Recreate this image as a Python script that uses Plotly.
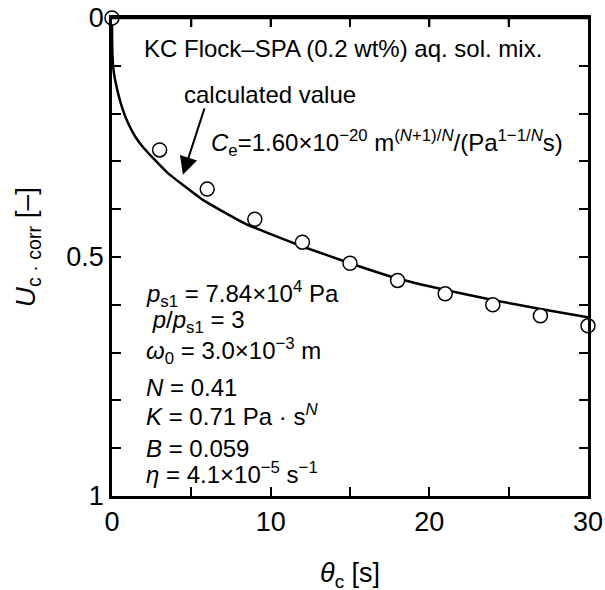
import plotly.graph_objects as go

# measured points
theta_pts = [0, 3, 6, 9, 12, 15, 18, 21, 24, 27, 30]
u_pts = [0.0, 0.276, 0.358, 0.421, 0.469, 0.513, 0.549, 0.577, 0.600, 0.623, 0.644]

# calculated curve
theta_calc = [0, 0.005, 0.02, 0.05, 0.1, 0.2, 0.35, 0.55, 0.8, 1.1, 1.5, 2.0, 2.7, 3.5,
              4.5, 5.7, 7.0, 8.5, 10, 12, 15, 18, 21, 24, 27, 30]
u_calc = [0, 0.04, 0.07, 0.092, 0.110, 0.13, 0.153, 0.178, 0.203, 0.226, 0.25, 0.272,
          0.297, 0.324, 0.35, 0.38, 0.405, 0.432, 0.452, 0.478, 0.513, 0.545, 0.569,
          0.590, 0.609, 0.626]

x_tickvals = [0, 5, 10, 15, 20, 25, 30]
x_ticktext = ["0", "", "10", "", "20", "", "30"]
y_tickvals = [0, 0.1, 0.2, 0.3, 0.4, 0.5, 0.6, 0.7, 0.8, 0.9, 1.0]
y_ticktext = ["0", "", "", "", "", "0.5", "", "", "", "", "1"]

params = [
    "<i>p</i><sub>s1</sub> = 7.84×10<sup>4</sup> Pa",
    " <i>p</i>/<i>p</i><sub>s1</sub> = 3",
    "<i>ω</i><sub>0</sub> = 3.0×10<sup>−3</sup> m",
    "<i>N</i> = 0.41",
    "<i>K</i> = 0.71 Pa · s<sup><i>N</i></sup>",
    "<i>B</i> = 0.059",
    "<i>η</i> = 4.1×10<sup>−5</sup> s<sup>−1</sup>",
]
param_y = [0.578, 0.634, 0.697, 0.772, 0.830, 0.900, 0.952]

FONT = "Liberation Sans, Arial, sans-serif"
AF = 24
PLOT_H = 590 - 18 - 94
TICKLEN = 9

fig = go.Figure()
fig.add_trace(go.Scatter(x=theta_calc, y=u_calc, mode="lines",
                         line=dict(color="black", width=2.5, shape="spline", smoothing=0.3),
                         showlegend=False, cliponaxis=False))
fig.add_trace(go.Scatter(x=theta_pts, y=u_pts, mode="markers",
                         marker=dict(symbol="circle", size=14, color="white",
                                     line=dict(color="black", width=1.5)),
                         showlegend=False, cliponaxis=False))

ann = []
ann.append(dict(x=14.59, y=0.063, xref="x", yref="y", text="KC Flock–SPA (0.2 wt%) aq. sol. mix.",
                showarrow=False, font=dict(size=AF, color="black", family=FONT)))
ann.append(dict(x=9.96, y=0.161, xref="x", yref="y", text="calculated value",
                showarrow=False, font=dict(size=AF, color="black", family=FONT)))
ann.append(dict(x=6.1, y=0.262, xref="x", yref="y", xanchor="left",
                text="<i>C</i><sub>e</sub>=1.60×10<sup>−20</sup> m<sup>(<i>N</i>+1)/<i>N</i></sup>/(Pa<sup>1−1/<i>N</i></sup>s)",
                showarrow=False, font=dict(size=AF, color="black", family=FONT)))
ann.append(dict(x=4.47, y=0.328, ax=5.86, ay=0.186, xref="x", yref="y", axref="x", ayref="y",
                text="", showarrow=True, arrowhead=2, arrowsize=1.8, arrowwidth=2, arrowcolor="black"))
for t, yy in zip(params, param_y):
    ann.append(dict(x=2.0, y=yy, xref="x", yref="y", xanchor="left", text=t,
                    showarrow=False, font=dict(size=AF, color="black", family=FONT)))
# axis titles
ann.append(dict(x=0.5, y=-0.165, xref="paper", yref="paper", xanchor="center", yanchor="middle",
                text="<i>θ</i><sub>c</sub> [s]", showarrow=False,
                font=dict(size=27, color="black", family=FONT)))
ann.append(dict(x=-0.176, y=0.521, xref="paper", yref="paper", xanchor="center", yanchor="middle",
                textangle=-90, text="<i>U</i><sub>c · corr</sub> [–]", showarrow=False,
                font=dict(size=28, color="black", family=FONT)))

axis_common = dict(ticks="inside", ticklen=TICKLEN, tickwidth=2, tickcolor="black",
                   showline=True, linewidth=2.5, linecolor="black",
                   showgrid=False, zeroline=False, tickfont=dict(size=27),
                   automargin=False, ticklabeloverflow="allow")

fig.update_layout(
    width=605, height=590,
    margin=dict(l=112, r=17, t=18, b=94, autoexpand=False),
    paper_bgcolor="white", plot_bgcolor="white",
    font=dict(family=FONT, color="black", size=27),
    annotations=ann,
    xaxis=dict(range=[0, 30], tickvals=x_tickvals, ticktext=x_ticktext,
               mirror="allticks", **axis_common),
    yaxis=dict(range=[1, 0], tickvals=y_tickvals, ticktext=y_ticktext,
               mirror="allticks", **axis_common),
)
# frame top edge and its inner ticks drawn explicitly as well
fig.add_shape(type="line", xref="paper", yref="paper", x0=0, x1=1, y0=1, y1=1,
              line=dict(color="black", width=2.5), layer="above")
for v in x_tickvals[1:-1]:
    fig.add_shape(type="line", xref="x", yref="paper", x0=v, x1=v,
                  y0=1, y1=1 - TICKLEN / PLOT_H,
                  line=dict(color="black", width=2), layer="above")

fig.write_html("out.html", config={"displayModeBar": False},
               post_script="document.body.style.margin='0';document.body.style.overflow='hidden';")
